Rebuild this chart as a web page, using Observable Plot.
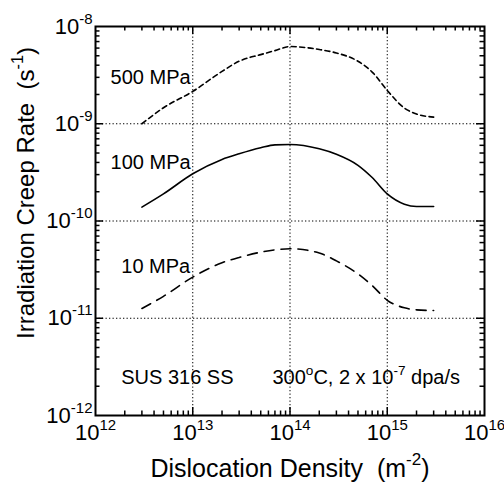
<!DOCTYPE html>
<html><head><meta charset="utf-8">
<script src="https://cdn.jsdelivr.net/npm/d3@7"></script>
<script src="https://cdn.jsdelivr.net/npm/@observablehq/plot@0.6"></script>
<style>
html,body{margin:0;padding:0;background:#fff;}
svg text{white-space:pre;}
</style></head><body><div id="chart"></div>
<script>
// ---- data ----
const density = [3e12,5e12,1e13,2e13,3e13,5e13,7e13,1e14,2e14,3e14,5e14,7e14,1e15,1.5e15,2e15,3e15];
const rate500 = [1.0e-9,1.46e-9,2.15e-9,3.45e-9,4.4e-9,5.14e-9,5.65e-9,6.22e-9,5.8e-9,5.35e-9,4.39e-9,3.4e-9,2.2e-9,1.45e-9,1.26e-9,1.17e-9];
const rate100 = [1.39e-10,1.9e-10,3.06e-10,4.3e-10,4.91e-10,5.66e-10,6.07e-10,6.12e-10,5.53e-10,4.86e-10,3.74e-10,2.8e-10,1.9e-10,1.49e-10,1.41e-10,1.41e-10];
const rate10 = [1.26e-11,1.68e-11,2.65e-11,3.72e-11,4.22e-11,4.78e-11,5.05e-11,5.19e-11,4.68e-11,3.89e-11,2.86e-11,2.17e-11,1.53e-11,1.28e-11,1.22e-11,1.2e-11];
const stressNames = ["500 MPa","100 MPa","10 MPa"];
const xDecades = [1e12,1e13,1e14,1e15,1e16];
const xTickLabels = ["10^{12}","10^{13}","10^{14}","10^{15}","10^{16}"];
const yDecades = [1e-12,1e-11,1e-10,1e-9,1e-8];
const yTickLabels = ["10^{-12}","10^{-11}","10^{-10}","10^{-9}","10^{-8}"];
const xGrid = [1e13,1e14,1e15];
const yGrid = [1e-11,1e-10,1e-9];
const labelX = [1.43e12,1.43e12,1.84e12];
const labelY = [3.0e-9,4.0e-10,3.41e-11];
const notes = ["SUS 316 SS","300^{o}C, 2 x 10^{-7} dpa/s"];
const noteX = [1.84e12,6.6e13];
const noteY = [2.43e-12,2.43e-12];
const xTitle = "Dislocation Density  (m^{-2})";
const yTitle = "Irradiation Creep Rate  (s^{-1})";

// ---- layout ----
const W = 504, H = 482, ML = 95, MR = 20, MT = 26, MB = 67;
const PW = W - ML - MR, PH = H - MT - MB;

// ---- derived tables ----
const seriesValues = [rate500, rate100, rate10];
const dashes = ["5,3.5", null, "10,7"];
const minorX = xDecades.slice(0,-1).flatMap(d => [2,3,4,5,6,7,8,9].map(k => d*k));
const minorY = yDecades.slice(0,-1).flatMap(d => [2,3,4,5,6,7,8,9].map(k => d*k));
const stressLabels = stressNames.map((t,i) => ({x: labelX[i], y: labelY[i], text: t}));
const noteRows = notes.map((t,i) => ({x: noteX[i], y: noteY[i], text: t}));
const fmtX = d => xTickLabels[xDecades.indexOf(d)];
const fmtY = d => yTickLabels[yDecades.indexOf(d)];

const lineMarks = stressNames.map((name, s) =>
  Plot.line(density.map((d,i) => ({density: d, rate: seriesValues[s][i]})), {
    x: "density", y: "rate", curve: "monotone-x", stroke: "black",
    strokeWidth: 1.6, strokeDasharray: dashes[s]
  })
);

// inward tick marks on all four sides (full-frame ticks shortened with insets)
const tickMarks = [];
for (const [vals, len] of [[minorX, 4.5], [xDecades.slice(1,-1), 8]]) {
  tickMarks.push(Plot.tickX(vals, {x: d => d, insetTop: PH - len, stroke: "black", strokeWidth: 1.5}));
  tickMarks.push(Plot.tickX(vals, {x: d => d, insetBottom: PH - len, stroke: "black", strokeWidth: 1.5}));
}
for (const [vals, len] of [[minorY, 4.5], [yDecades.slice(1,-1), 8]]) {
  tickMarks.push(Plot.tickY(vals, {y: d => d, insetRight: PW - len, stroke: "black", strokeWidth: 1.5}));
  tickMarks.push(Plot.tickY(vals, {y: d => d, insetLeft: PW - len, stroke: "black", strokeWidth: 1.5}));
}

const chart = Plot.plot({
  width: W, height: H,
  marginLeft: ML, marginRight: MR, marginTop: MT, marginBottom: MB,
  x: {type: "log", domain: [1e12, 1e16], label: null},
  y: {type: "log", domain: [1e-12, 1e-8], label: null},
  style: {fontFamily: "'Liberation Sans', Arial, sans-serif", color: "black", background: "white"},
  marks: [
    Plot.ruleX(xGrid, {stroke: "black", strokeWidth: 1, strokeDasharray: "1.3,2.2"}),
    Plot.ruleY(yGrid, {stroke: "black", strokeWidth: 1, strokeDasharray: "1.3,2.2"}),
    ...lineMarks,
    ...tickMarks,
    Plot.axisX(xDecades, {anchor: "bottom", tickSize: 0, tickPadding: 9, fontSize: 22, tickFormat: fmtX, label: null}),
    Plot.axisY(yDecades, {anchor: "left", tickSize: 0, tickPadding: 3, fontSize: 22, tickFormat: fmtY, label: null}),
    Plot.text(stressLabels, {x: "x", y: "y", text: "text", textAnchor: "start", fontSize: 20, fill: "black"}),
    Plot.text(noteRows, {x: "x", y: "y", text: "text", textAnchor: "start", fontSize: 20, fill: "black"}),
    Plot.text([xTitle], {frameAnchor: "bottom", lineAnchor: "middle", textAnchor: "middle", dy: 53, fontSize: 25, fill: "black"}),
    Plot.text([yTitle], {frameAnchor: "left", lineAnchor: "middle", textAnchor: "middle", dx: -69, dy: -28, rotate: -90, fontSize: 24, fill: "black"}),
    Plot.frame({stroke: "black", strokeWidth: 2})
  ]
});

// superscripts via tspans
chart.querySelectorAll("text").forEach(t => {
  const s = t.textContent;
  if (!s.includes("^{")) return;
  let el = t, f = 20;
  while (el && el.getAttribute) {
    const a = el.getAttribute("font-size");
    if (a) { f = parseFloat(a); break; }
    el = el.parentNode;
  }
  t.textContent = "";
  const parts = s.split(/(\^\{[^}]*\})/).filter(p => p.length);
  let raised = false;
  const ns = "http://www.w3.org/2000/svg";
  parts.forEach(p => {
    const sp = document.createElementNS(ns, "tspan");
    if (p.startsWith("^{")) {
      sp.textContent = p.slice(2, -1);
      sp.setAttribute("font-size", (0.68 * f).toFixed(1));
      sp.setAttribute("dy", (-0.45 * f).toFixed(1));
      raised = true;
    } else {
      sp.textContent = p;
      if (raised) { sp.setAttribute("dy", (0.45 * f).toFixed(1)); raised = false; }
    }
    t.appendChild(sp);
  });
});

document.getElementById("chart").appendChild(chart);
</script></body></html>
